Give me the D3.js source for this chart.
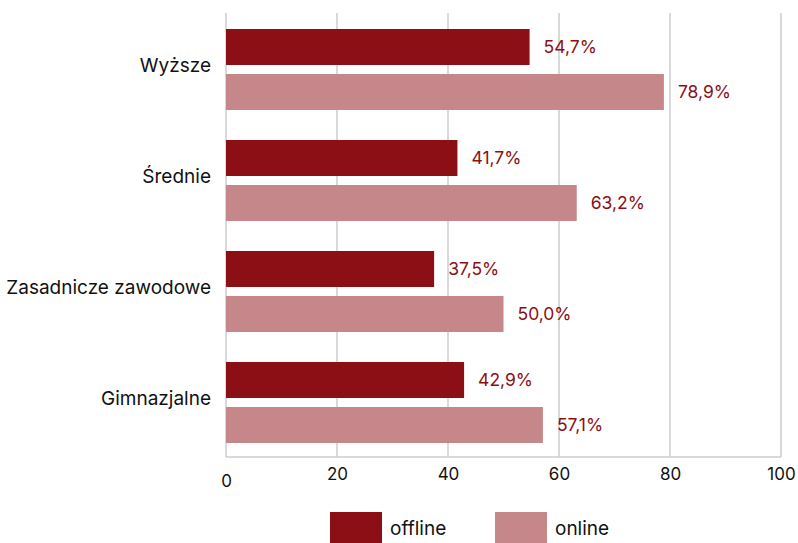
<!DOCTYPE html>
<html>
<head>
<meta charset="utf-8">
<script src="https://cdn.jsdelivr.net/npm/d3@7"></script>
<style>
  body { margin: 0; background: #fff; }
  text { font-family: Inter, "Noto Sans", sans-serif; }
</style>
</head>
<body>
<svg width="798" height="543"></svg>
<script>
const categories = ["Wyższe", "Średnie", "Zasadnicze zawodowe", "Gimnazjalne"];
const series = ["offline", "online"];
const offline = [54.7, 41.7, 37.5, 42.9];
const online = [78.9, 63.2, 50.0, 57.1];
const ticks = [0, 20, 40, 60, 80, 100];
const colors = { offline: "#8b0f14", online: "#c6878a" };

const margin = { left: 226, right: 17, top: 13, bottom: 86 };
const width = 798 - margin.left - margin.right;
const height = 543 - margin.top - margin.bottom;

const svg = d3.select("svg");
const g = svg.append("g").attr("transform", `translate(${margin.left},${margin.top})`);

const x = d3.scaleLinear().domain([0, 100]).range([0, width]);
const y = d3.scaleBand().domain(categories).range([0, height]).paddingInner(0).paddingOuter(0);
const y1 = d3.scaleBand().domain(series).range([16, 97]).paddingInner(0.2);

// grid
g.append("g")
  .selectAll("line")
  .data(ticks)
  .enter()
  .append("line")
  .attr("x1", d => x(d))
  .attr("x2", d => x(d))
  .attr("y1", 0)
  .attr("y2", height)
  .attr("stroke", "#cccccc")
  .attr("stroke-width", 1.5);

g.append("line")
  .attr("x1", 0).attr("x2", width)
  .attr("y1", height).attr("y2", height)
  .attr("stroke", "#cccccc")
  .attr("stroke-width", 1.5);

// x axis labels
const xAxis = g.append("g")
  .attr("transform", `translate(0,${height})`)
  .call(d3.axisBottom(x).tickValues(ticks).tickSize(0).tickPadding(11));
xAxis.select(".domain").remove();
xAxis.selectAll("text")
  .attr("font-size", "17px")
  .attr("fill", "#111")
  .attr("dy", (d, i) => i === 0 ? "1.1em" : "0.71em");

// y axis labels
const yAxis = g.append("g")
  .call(d3.axisLeft(y).tickSize(0).tickPadding(15));
yAxis.select(".domain").remove();
yAxis.selectAll("text")
  .attr("font-size", "19px")
  .attr("fill", "#111")
  .attr("dy", "0.2em");

const rows = categories.map((c, i) => ({ cat: c, offline: offline[i], online: online[i] }));

const groups = g.append("g")
  .selectAll("g")
  .data(rows)
  .enter()
  .append("g")
  .attr("transform", d => `translate(0,${y(d.cat)})`);

groups.selectAll("rect")
  .data(d => series.map(s => ({ s, v: d[s] })))
  .enter()
  .append("rect")
  .attr("x", 0)
  .attr("y", d => y1(d.s))
  .attr("width", d => x(d.v))
  .attr("height", y1.bandwidth())
  .attr("fill", d => colors[d.s]);

groups.selectAll("text.val")
  .data(d => series.map(s => ({ s, v: d[s] })))
  .enter()
  .append("text")
  .attr("class", "val")
  .attr("x", d => x(d.v) + 14)
  .attr("y", d => y1(d.s) + y1.bandwidth() / 2)
  .attr("dy", "0.35em")
  .attr("font-size", "17.5px")
  .attr("fill", "#8b0f14")
  .text(d => d.v.toFixed(1).replace(".", ",") + "%");

// legend
const legendX = [330, 495];
const legend = svg.append("g");
series.forEach((s, i) => {
  legend.append("rect")
    .attr("x", legendX[i])
    .attr("y", 512)
    .attr("width", 52)
    .attr("height", 31)
    .attr("fill", colors[s]);
  legend.append("text")
    .attr("x", legendX[i] + 60)
    .attr("y", 528)
    .attr("dy", "0.35em")
    .attr("font-size", "19px")
    .attr("fill", "#111")
    .text(s);
});
</script>
</body>
</html>
